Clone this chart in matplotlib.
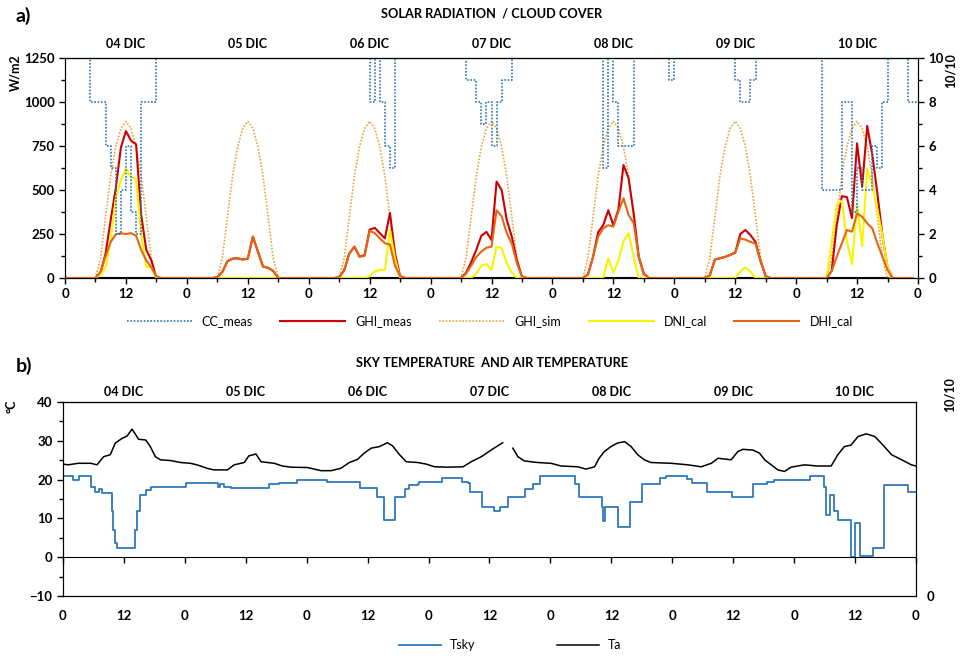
import numpy as np
import matplotlib.pyplot as plt
from matplotlib.ticker import MultipleLocator

plt.rcParams['font.family'] = ['Lato', 'DejaVu Sans']

days = ['04 DIC', '05 DIC', '06 DIC', '07 DIC', '08 DIC', '09 DIC', '10 DIC']

# --- a) radiation, hourly values h0..h23 for each day (W/m2) ---
ghi_meas = [
    [0]*6 + [0, 30, 140, 330, 510, 740, 835, 780, 760, 360, 160, 100, 0, 0] + [0]*4,
    [0]*6 + [5, 35, 95, 110, 112, 105, 110, 235, 150, 65, 58, 40, 0, 0] + [0]*4,
    [0]*6 + [5, 45, 140, 178, 122, 130, 275, 285, 255, 225, 370, 140, 10, 0] + [0]*4,
    [0]*6 + [0, 30, 90, 160, 240, 262, 216, 548, 500, 330, 235, 100, 8, 0] + [0]*4,
    [0]*6 + [0, 20, 120, 260, 300, 385, 300, 390, 642, 566, 367, 121, 25, 0] + [0]*4,
    [0]*6 + [0, 15, 105, 112, 120, 131, 144, 250, 273, 244, 205, 95, 10, 0] + [0]*4,
    [0]*6 + [0, 40, 300, 465, 460, 340, 765, 520, 864, 700, 480, 240, 60, 0] + [0]*4,
]
ghi_sim = [
    [0]*6 + [0, 115, 350, 580, 745, 850, 890, 850, 745, 580, 350, 115, 0, 0] + [0]*4,
] * 7
dni_cal = [
    [0]*6 + [0, 17, 64, 216, 450, 557, 620, 576, 560, 250, 64, 60, 0, 0] + [0]*4,
    [0]*24,
    [0]*6 + [0, 0, 0, 0, 0, 0, 10, 38, 45, 45, 273, 110, 0, 0] + [0]*4,
    [0]*6 + [0, 0, 0, 25, 70, 80, 45, 178, 170, 85, 30, 0, 0, 0] + [0]*4,
    [0]*6 + [0, 0, 0, 0, 0, 112, 30, 100, 210, 255, 120, 0, 0, 0] + [0]*4,
    [0]*6 + [0, 0, 0, 0, 0, 0, 0, 36, 61, 36, 0, 0, 0, 0] + [0]*4,
    [0]*6 + [0, 200, 420, 440, 210, 80, 420, 180, 620, 530, 390, 240, 60, 0] + [0]*4,
]
dhi_cal = [
    [0]*6 + [0, 35, 125, 205, 248, 254, 250, 255, 240, 160, 100, 60, 10, 0] + [0]*4,
    [0]*6 + [5, 35, 95, 110, 112, 105, 110, 235, 150, 65, 58, 40, 0, 0] + [0]*4,
    [0]*6 + [5, 45, 140, 178, 122, 125, 268, 255, 225, 198, 190, 70, 10, 0] + [0]*4,
    [0]*6 + [0, 25, 70, 120, 150, 172, 178, 385, 350, 255, 195, 85, 8, 0] + [0]*4,
    [0]*6 + [0, 20, 120, 235, 282, 300, 292, 377, 453, 358, 311, 121, 25, 0] + [0]*4,
    [0]*6 + [0, 15, 105, 112, 120, 131, 144, 225, 218, 205, 195, 95, 10, 0] + [0]*4,
    [0]*6 + [0, 40, 121, 197, 273, 263, 367, 348, 311, 282, 197, 121, 45, 0] + [0]*4,
]
# zero reference during daylight hours (black)
daylight = [[np.nan]*6 + [0]*13 + [np.nan]*5] * 7

# cloud cover (tenths), hourly steps
cc_meas = [
    [10, 10, 10, 10, 10, 8, 8, 8, 6, 5, 2, 4, 6, 3, 2, 8, 8, 8, 10, 10, 10, 10, 10, 10],
    [10]*24,
    [10]*12 + [8, 10, 8, 6, 5] + [10]*7,
    [10]*7 + [9, 9, 8, 7, 8, 6, 8, 9, 9] + [10]*8,
    [10]*10 + [5, 10, 8, 6, 6, 6] + [10]*7 + [9],
    [10]*12 + [9, 8, 8, 9] + [10]*8,
    [10]*5 + [4, 4, 4, 4, 8, 8, 3, 5, 4, 4, 6, 5, 8] + [10]*4 + [8, 8],
]

# --- b) temperatures ---
ta_hours = [0, 1, 3, 5.5, 6.7, 8, 9.3, 10.3, 11.6, 12.6, 13.6, 14.9, 16.3, 17.2, 18.2, 19.2,
            21.2, 23.2, 25.1, 26.4, 28.4, 29.7, 32.4, 33.7, 35.7, 36.6, 38, 39, 40.3, 41.6,
            43.2, 44.9, 48.2, 50.8, 52.8, 54.7, 56.4, 58, 59.3, 60.7, 62.3, 63.9, 64.9, 66.3,
            67.6, 69.9, 71.5, 73.2, 75.8, 78.8, 80.4, 82.4, 84.3, 86.6, 87.5, 88.6, 89.6,
            90.9, 93.5, 96.1, 98.1, 101.4, 103, 104.7, 105.6, 106.6, 107.9, 109.2, 110.6,
            111.9, 113.2, 114.5, 115.8, 119.8, 123.1, 125.7, 127.7, 129, 131.6, 132.9, 133.9,
            135.9, 137.2, 138.2, 139.5, 140.8, 142.1, 143.4, 146, 148.7, 151.3, 152.6, 153.9,
            155.2, 156.6, 158.2, 159.9, 161.5, 163.2, 165.2, 167.1, 168]
ta_vals = [24.0, 23.8, 24.2, 24.2, 23.8, 25.9, 26.4, 29.4, 30.6, 31.2, 33.0, 30.4, 30.2, 28.5,
           25.9, 25.1, 24.9, 24.4, 24.2, 23.8, 22.9, 22.5, 22.5, 23.8, 24.4, 26.1, 26.6, 24.6,
           24.4, 24.2, 23.5, 23.2, 23.1, 22.3, 22.3, 22.9, 24.4, 25.2, 26.8, 28.1, 28.5, 29.5,
           28.7, 26.4, 24.6, 24.4, 24.0, 23.3, 23.2, 23.3, 24.6, 25.9, 27.6, 29.5, np.nan,
           28.1, 25.9, 24.8, 24.4, 24.2, 23.5, 23.3, 22.7, 23.3, 25.5, 27.2, 28.5, 29.4, 29.8,
           28.5, 26.4, 25.1, 24.4, 24.2, 23.8, 23.3, 24.2, 25.5, 25.1, 27.2, 27.8, 27.6, 26.8,
           25.1, 23.8, 22.5, 22.1, 23.2, 23.8, 23.5, 23.5, 26.4, 28.5, 28.9, 31.1, 31.8, 31.1,
           28.9, 26.4, 25.1, 23.8, 23.5]

tsky_hours = [0, 2.0, 3.1, 5.6, 6.3, 7.0, 7.6, 9.6, 9.9, 10.2, 10.6, 14.1, 14.5, 15.2, 16.4,
              17.4, 24.3, 30.5, 31.0, 31.8, 33.0, 40.6, 42.6, 46.1, 52.0, 58.5, 61.8, 63.3,
              65.4, 67.4, 68.2, 69.9, 70.2, 74.6, 78.6, 79.7, 80.1, 82.5, 84.8, 86.0, 87.7,
              91.0, 92.6, 94.0, 100.8, 101.7, 106.1, 106.3, 106.7, 109.4, 111.7, 114.0, 117.6,
              118.8, 123.0, 123.9, 126.8, 131.7, 136.0, 138.6, 140.0, 147.2, 149.8, 150.3,
              151.0, 151.8, 152.7, 155.3, 155.9, 156.9, 159.5, 161.7, 166.4, 168]
tsky_vals = [20.8, 19.9, 20.8, 18.2, 16.9, 17.5, 16.5, 11.8, 7.0, 3.6, 2.3, 7.0, 11.8, 16.1,
             17.3, 18.2, 19.2, 18.2, 18.9, 18.2, 17.8, 18.9, 19.2, 19.9, 19.5, 17.8, 15.4, 9.6,
             15.4, 17.5, 18.6, 18.9, 19.5, 20.3, 19.5, 19.1, 16.9, 13.0, 11.8, 13.0, 15.4,
             17.5, 18.9, 20.8, 18.9, 15.4, 13.0, 9.4, 13.0, 7.7, 14.1, 18.9, 20.3, 20.8, 20.1,
             19.2, 16.9, 15.4, 18.9, 19.5, 19.9, 20.8, 18.2, 10.9, 16.1, 11.8, 9.6, 0.0, 8.9,
             0.2, 2.3, 18.6, 16.9, 16.9]

hours = np.arange(7 * 24)
ghi_meas = np.concatenate(ghi_meas)
ghi_sim = np.concatenate(ghi_sim)
dni_cal = np.concatenate(dni_cal)
dhi_cal = np.concatenate(dhi_cal)
daylight = np.concatenate(daylight)
cc = np.concatenate(cc_meas)
cc = np.append(cc, cc[-1])

c_cc = '#2E75B6'
c_red = '#CC0000'
c_sim = '#EDA33A'
c_dni = '#F5F500'
c_dhi = '#E8650F'
dot = (0, (1, 1))

fig = plt.figure(figsize=(9.66, 6.56), dpi=100)
ax1 = fig.add_axes([0.0673, 0.5762, 0.883, 0.3354])
ax2 = fig.add_axes([0.0652, 0.0915, 0.883, 0.2957])

# ---------- panel a ----------
ax1.plot(hours, daylight, color='black', lw=2.2, zorder=1)
ax1.plot(hours, ghi_sim, color=c_sim, lw=1.2, ls=dot, label='GHI_sim', zorder=2)
ax1.plot(hours, ghi_meas, color=c_red, lw=1.5, label='GHI_meas', zorder=3)
ax1.plot(hours, dni_cal, color=c_dni, lw=1.5, label='DNI_cal', zorder=4)
ax1.plot(hours, dhi_cal, color=c_dhi, lw=1.5, label='DHI_cal', zorder=5)
ax1.set_xlim(0, 168)
ax1.set_ylim(0, 1250)
ax1.yaxis.set_major_locator(MultipleLocator(250))
ax1.yaxis.set_minor_locator(MultipleLocator(125))
ax1.xaxis.set_minor_locator(MultipleLocator(6))

ax1r = ax1.twinx()
ax1r.plot(np.arange(len(cc)), cc, color=c_cc, lw=1.2, ls=dot, drawstyle='steps-post',
          label='CC_meas')
ax1r.set_ylim(0, 10)
ax1r.yaxis.set_major_locator(MultipleLocator(2))
ax1r.yaxis.set_minor_locator(MultipleLocator(1))

xt = np.arange(0, 169, 12)
xl = ['0' if t % 24 == 0 else '12' for t in xt]
ax1.set_xticks(xt, xl)

for a in (ax1, ax1r, ax2):
    a.tick_params(which='both', direction='out', labelsize=9.5, width=1)
    a.tick_params(which='major', length=4)
    a.tick_params(which='minor', length=3)
    for lab in a.get_xticklabels() + a.get_yticklabels():
        lab.set_fontweight('bold')

top1 = ax1.secondary_xaxis('top')
top1.set_xticks(np.arange(12, 168, 24), days)
top1.tick_params(length=0, labelsize=9, pad=6)
for lab in top1.get_xticklabels():
    lab.set_fontweight('bold')

h1, l1 = ax1.get_legend_handles_labels()
h2, l2 = ax1r.get_legend_handles_labels()
hd = dict(zip(l1 + l2, h1 + h2))
order = ['CC_meas', 'GHI_meas', 'GHI_sim', 'DNI_cal', 'DHI_cal']
ax1.legend([hd[k] for k in order], order, loc='center', bbox_to_anchor=(0.498, -0.195),
           ncol=5, frameon=False, fontsize=9, handlelength=5.2, columnspacing=2.2,
           handletextpad=0.8)

# ---------- panel b ----------
ax2.plot(tsky_hours, tsky_vals, color='#2F78BD', lw=1.3, drawstyle='steps-post', label='Tsky')
ax2.plot(ta_hours, ta_vals, color='black', lw=1.1, label='Ta')
ax2.set_xlim(0, 168)
ax2.set_ylim(-10, 40)
ax2.yaxis.set_major_locator(MultipleLocator(10))
ax2.yaxis.set_minor_locator(MultipleLocator(5))
ax2.spines['bottom'].set_position(('data', 0))
ax2.set_xticks(xt)
ax2.tick_params(axis='x', labelbottom=False, length=4, direction='out')
for lab in ax2.get_yticklabels():
    lab.set_fontweight('bold')

bot2 = ax2.secondary_xaxis('bottom')
bot2.set_xticks(xt, xl)
bot2.tick_params(length=0, labelsize=9.5, pad=10)
for lab in bot2.get_xticklabels():
    lab.set_fontweight('bold')

top2 = ax2.secondary_xaxis('top')
top2.set_xticks(np.arange(12, 168, 24), days)
top2.tick_params(length=0, labelsize=9, pad=3)
for lab in top2.get_xticklabels():
    lab.set_fontweight('bold')

ax2r = ax2.twinx()
ax2r.set_ylim(0, 10)
ax2r.set_yticks([0])
ax2r.tick_params(length=0, labelsize=9.5, pad=8)
for lab in ax2r.get_yticklabels():
    lab.set_fontweight('bold')

ax2.legend(loc='center', bbox_to_anchor=(0.524, -0.253), ncol=2, frameon=False,
           fontsize=9, handlelength=3.4, columnspacing=6.5, handletextpad=0.7)

# ---------- text ----------
fig.text(0.016, 0.976, 'a)', fontsize=14, fontweight='bold', va='center')
fig.text(0.509, 0.980, 'SOLAR RADIATION  / CLOUD COVER', fontsize=9.2, fontweight='bold',
         ha='center', va='center')
fig.text(0.0155, 0.889, 'W/m2', rotation=90, fontsize=9, fontweight='bold',
         ha='center', va='center')
fig.text(0.984, 0.893, '10/10', rotation=90, fontsize=9, fontweight='bold',
         ha='center', va='center')
fig.text(0.016, 0.442, 'b)', fontsize=14, fontweight='bold', va='center')
fig.text(0.509, 0.447, 'SKY TEMPERATURE  AND AIR TEMPERATURE', fontsize=9.2,
         fontweight='bold', ha='center', va='center')
fig.text(0.012, 0.380, '°C', rotation=90, fontsize=9, fontweight='bold',
         ha='center', va='center')
fig.text(0.983, 0.398, '10/10', rotation=90, fontsize=9, fontweight='bold',
         ha='center', va='center')

fig.savefig('out.png', dpi=100)
